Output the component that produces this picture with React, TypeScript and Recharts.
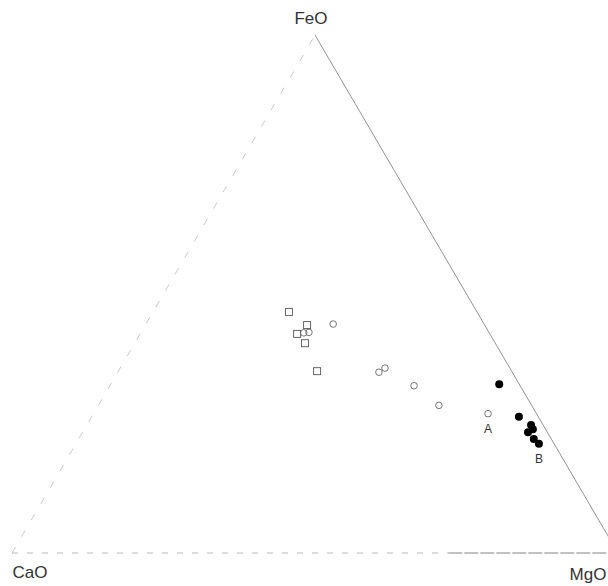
import React from "react";
import {
  ScatterChart,
  Scatter,
  XAxis,
  YAxis,
  ReferenceLine,
  ReferenceDot,
} from "recharts";

// compositions as [CaO, MgO, FeO] in wt %
const OPEN_SQUARES = [
  [31.0, 22.4, 46.5],
  [29.3, 26.7, 44.0],
  [31.8, 25.9, 42.3],
  [31.4, 28.1, 40.5],
  [32.1, 32.8, 35.1],
];

const OPEN_CIRCLES = [
  [30.6, 26.9, 42.5],
  [29.7, 27.7, 42.6],
  [24.9, 30.9, 44.2],
  [22.0, 43.1, 34.9],
  [20.6, 43.7, 35.7],
  [17.5, 50.2, 32.3],
  [15.3, 56.2, 28.5],
  [8.0, 65.1, 26.9],
];

const FILLED_CIRCLES = [
  [3.3, 64.1, 32.6],
  [3.2, 70.5, 26.3],
  [2.0, 73.3, 24.7],
  [2.1, 74.0, 23.9],
  [3.2, 73.5, 23.3],
  [2.9, 75.1, 22.0],
  [2.5, 76.4, 21.1],
];

const APICES = ["CaO", "MgO", "FeO"];
const POINT_LABELS = [
  { text: "A", comp: [8.0, 65.1, 26.9] },
  { text: "B", comp: [2.5, 76.4, 21.1] },
];

function toXY(comp: number[]) {
  const total = comp[0] + comp[1] + comp[2];
  const mg = comp[1] / total;
  const fe = comp[2] / total;
  return { x: mg + fe * 0.5, y: fe };
}

const squareData = OPEN_SQUARES.map(toXY);
const circleData = OPEN_CIRCLES.map(toXY);
const filledData = FILLED_CIRCLES.map(toXY);

const corner = {
  CaO: toXY([100, 0, 0]),
  MgO: toXY([0, 100, 0]),
  FeO: toXY([0, 0, 100]),
};

// the original figure is cut off a little before the MgO corner
const X_MAX = 596 / 606;

const FONT = "'Liberation Sans', Arial, sans-serif";

function OpenSquare(props: any) {
  const { cx, cy } = props;
  if (cx == null || cy == null) return null;
  return (
    <rect x={cx - 3.5} y={cy - 3.5} width={7} height={7} fill="none" stroke="#555" strokeWidth={0.9} />
  );
}

function OpenCircle(props: any) {
  const { cx, cy } = props;
  if (cx == null || cy == null) return null;
  return <circle cx={cx} cy={cy} r={3.3} fill="none" stroke="#666" strokeWidth={0.9} />;
}

function FilledCircle(props: any) {
  const { cx, cy } = props;
  if (cx == null || cy == null) return null;
  return <circle cx={cx} cy={cy} r={4} fill="#000" />;
}

function textAt(text: string, dx: number, dy: number, size: number) {
  return (p: any) => {
    const vb = p.viewBox || {};
    const x = (vb.x ?? 0) + (vb.width ?? 0) / 2 + dx;
    const y = (vb.y ?? 0) + (vb.height ?? 0) / 2 + dy;
    return (
      <text
        x={x}
        y={y}
        textAnchor="middle"
        dominantBaseline="central"
        fontFamily={FONT}
        fontSize={size}
        fill="#333"
      >
        {text}
      </text>
    );
  };
}

const cornerOffsets: Record<string, [number, number]> = {
  CaO: [18, 19],
  MgO: [-30, 21],
  FeO: [-4, -17],
};

export default function App() {
  return (
    <div style={{ position: "absolute", left: 0, top: 0, background: "#fff" }}>
      <ScatterChart width={608} height={586} margin={{ top: 35, right: 0, bottom: 33, left: 12 }}>
        <XAxis type="number" dataKey="x" domain={[0, X_MAX]} allowDataOverflow hide />
        <YAxis type="number" dataKey="y" domain={[0, 1]} hide />

        {/* triangle edges */}
        <ReferenceLine
          segment={[corner.CaO, corner.FeO]}
          stroke="#bbb"
          strokeWidth={0.8}
          strokeDasharray="7 12"
          ifOverflow="visible"
        />
        <ReferenceLine
          segment={[corner.FeO, corner.MgO]}
          stroke="#777"
          strokeWidth={0.8}
          ifOverflow="visible"
        />
        <ReferenceLine
          segment={[corner.CaO, { x: 0.72, y: 0 }]}
          stroke="#aaa"
          strokeWidth={0.8}
          strokeDasharray="6 9"
          ifOverflow="visible"
        />
        <ReferenceLine
          segment={[{ x: 0.72, y: 0 }, corner.MgO]}
          stroke="#777"
          strokeWidth={0.9}
          strokeDasharray="14 2"
          ifOverflow="visible"
        />

        <Scatter data={squareData} shape={<OpenSquare />} isAnimationActive={false} />
        <Scatter data={circleData} shape={<OpenCircle />} isAnimationActive={false} />
        <Scatter data={filledData} shape={<FilledCircle />} isAnimationActive={false} />

        {APICES.map((name) => {
          const c = corner[name as keyof typeof corner];
          const [dx, dy] = cornerOffsets[name];
          return (
            <ReferenceDot
              key={name}
              x={c.x}
              y={c.y}
              r={1}
              fill="none"
              stroke="none"
              ifOverflow="visible"
              label={textAt(name, dx, dy, 17)}
            />
          );
        })}

        {POINT_LABELS.map((l) => {
          const c = toXY(l.comp);
          return (
            <ReferenceDot
              key={l.text}
              x={c.x}
              y={c.y}
              r={1}
              fill="none"
              stroke="none"
              ifOverflow="visible"
              label={textAt(l.text, 0, 15, 12)}
            />
          );
        })}
      </ScatterChart>
    </div>
  );
}
